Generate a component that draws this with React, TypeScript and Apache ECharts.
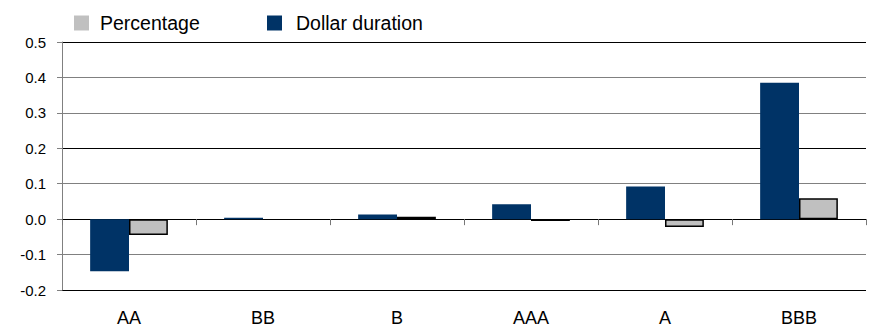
import React, { useEffect, useRef } from "react";
import * as echarts from "echarts";

const categories = ["AA", "BB", "B", "AAA", "A", "BBB"];
const dollarDuration = [-0.147, 0.004, 0.013, 0.042, 0.092, 0.385];
const percentage = [-0.045, 0, 0.007, -0.005, -0.022, 0.059];
const yMin = -0.2;
const yMax = 0.5;
const yStep = 0.1;

const FONT = "'Liberation Sans', Arial, Helvetica, sans-serif";

export default function App() {
  const ref = useRef<HTMLDivElement>(null);
  useEffect(() => {
    if (!ref.current) return;
    const chart = echarts.init(ref.current, undefined, { renderer: "svg" });
    const legendBase = {
      top: 8,
      itemWidth: 15,
      itemHeight: 15,
      icon: "rect",
      selectedMode: false,
      itemStyle: { borderWidth: 0 },
    };
    chart.setOption({
      animation: false,
      backgroundColor: "#fff",
      legend: [
        {
          ...legendBase,
          left: 69,
          data: ["Percentage"],
          textStyle: { fontSize: 19.5, fontFamily: FONT, color: "#000", padding: [0, 0, 0, 6] },
        },
        {
          ...legendBase,
          left: 262,
          data: ["Dollar duration"],
          textStyle: { fontSize: 19.5, fontFamily: FONT, color: "#000", padding: [0, 0, 0, 9] },
        },
      ],
      grid: { left: 62, right: 3, top: 42, bottom: 38, containLabel: false, outerBoundsMode: "none" },
      xAxis: {
        type: "category",
        data: categories,
        axisLine: { onZero: true, lineStyle: { color: "#000", width: 1 } },
        axisTick: { show: true, length: 6, lineStyle: { color: "#777" } },
        axisLabel: { margin: 19, fontSize: 18, fontFamily: FONT, color: "#000" },
        splitLine: { show: false },
      },
      yAxis: {
        type: "value",
        min: yMin,
        max: yMax,
        interval: yStep,
        axisLine: { show: true, lineStyle: { color: "#808080", width: 1 } },
        axisTick: { show: true, length: 5, lineStyle: { color: "#808080" } },
        axisLabel: {
          margin: 16,
          fontSize: 15,
          fontFamily: FONT,
          color: "#000",
          formatter: (v: number) => v.toFixed(1),
        },
        splitLine: {
          show: true,
          lineStyle: {
            width: 1,
            color: ["#000", "#808080", "#000", "#808080", "#000", "#808080", "#808080", "#000"],
          },
        },
      },
      series: [
        {
          name: "Dollar duration",
          type: "bar",
          data: dollarDuration,
          barGap: "0%",
          barCategoryGap: "42%",
          itemStyle: { color: "#003366" },
        },
        {
          name: "Percentage",
          type: "bar",
          data: percentage.map((v) => (v === 0 ? { value: v, itemStyle: { borderWidth: 0 } } : v)),
          barGap: "0%",
          barCategoryGap: "42%",
          itemStyle: { color: "#C0C0C0", borderColor: "#000", borderWidth: 1.5 },
        },
      ],
    });
    return () => chart.dispose();
  }, []);
  return <div ref={ref} style={{ width: 869, height: 328, position: "absolute", left: 0, top: 0 }} />;
}
